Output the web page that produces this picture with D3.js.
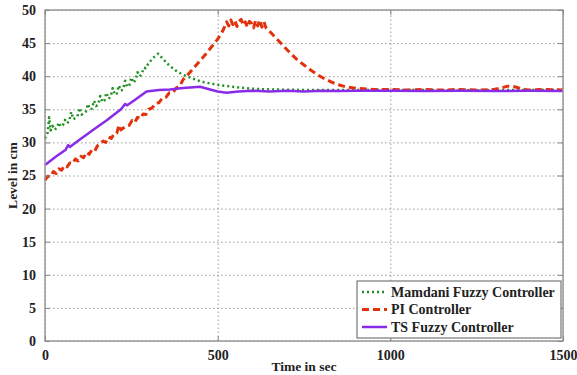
<!DOCTYPE html>
<html>
<head>
<meta charset="utf-8">
<script src="https://cdn.jsdelivr.net/npm/d3@7"></script>
<style>
  body { margin: 0; background: #fff; }
</style>
</head>
<body>
<div></div>
<script>
// Data
var mamdaniTime = [0, 8, 12, 16, 22, 28, 34, 40, 46, 52, 58, 64, 70, 76, 82, 88, 94, 100, 106, 112, 118, 124, 130, 136, 142, 148, 154, 160, 166, 172, 178, 184, 190, 196, 202, 208, 214, 220, 226, 232, 238, 244, 250, 256, 262, 268, 274, 280, 286, 292, 298, 304, 310, 316, 322, 328, 340, 360, 380, 400, 420, 440, 460, 480, 500, 530, 560, 600, 650, 700, 800, 900, 1000, 1100, 1200, 1300, 1400, 1500];
var mamdaniLevel = [30.6, 31.5, 33.8, 31.8, 32.5, 31.9, 32.2, 33.0, 32.4, 32.6, 33.4, 32.9, 33.2, 34.6, 33.5, 33.7, 33.9, 35.2, 34.2, 34.4, 34.6, 35.8, 35.0, 35.1, 36.3, 35.5, 35.7, 37.0, 36.1, 36.3, 37.5, 36.6, 36.9, 38.2, 37.2, 37.4, 38.6, 37.8, 38.0, 39.3, 38.4, 38.6, 39.8, 39.0, 39.4, 40.6, 40.0, 40.3, 41.3, 41.2, 41.8, 42.2, 42.6, 42.9, 43.2, 43.4, 42.7, 41.6, 40.8, 40.2, 39.8, 39.4, 39.1, 38.9, 38.7, 38.5, 38.3, 38.1, 38.0, 37.95, 37.9, 37.9, 37.9, 37.9, 37.85, 37.9, 37.9, 37.9];

var piTime = [0, 8, 16, 24, 32, 40, 48, 56, 64, 72, 80, 88, 96, 104, 112, 120, 128, 136, 144, 152, 160, 168, 176, 184, 192, 200, 208, 214, 220, 228, 236, 244, 252, 260, 268, 276, 284, 292, 300, 310, 320, 330, 340, 350, 360, 370, 380, 390, 400, 410, 420, 430, 440, 450, 460, 470, 480, 490, 500, 510, 518, 526, 532, 538, 544, 550, 556, 562, 568, 574, 580, 586, 592, 598, 604, 610, 616, 622, 628, 634, 640, 650, 670, 690, 710, 730, 750, 770, 790, 810, 830, 850, 870, 900, 950, 1000, 1050, 1100, 1150, 1200, 1250, 1300, 1320, 1340, 1360, 1380, 1400, 1450, 1500];
var piLevel = [24.3, 24.9, 24.8, 25.6, 25.3, 26.0, 25.8, 26.5, 26.3, 26.9, 26.8, 27.5, 27.2, 27.9, 27.7, 28.5, 28.2, 28.9, 28.7, 29.5, 29.8, 30.2, 30.0, 30.8, 30.6, 31.3, 31.4, 32.6, 31.9, 32.2, 32.5, 32.6, 33.3, 33.0, 33.8, 33.6, 34.3, 34.2, 35.0, 35.2, 35.9, 36.0, 36.7, 36.8, 37.5, 37.5, 38.2, 38.5, 39.5, 40.0, 40.6, 41.2, 41.8, 42.4, 43.0, 43.6, 44.3, 44.9, 45.6, 46.4, 47.2, 48.2, 47.6, 48.5, 47.8, 48.4, 47.5, 48.3, 48.6, 47.7, 48.2, 47.4, 48.3, 48.0, 47.3, 48.4, 47.6, 48.5, 47.4, 48.2, 47.3, 46.8, 45.7, 44.6, 43.5, 42.5, 41.7, 40.9, 40.2, 39.6, 39.1, 38.7, 38.4, 38.2, 38.0, 38.0, 37.9, 38.0, 37.9, 38.0, 37.9, 38.0, 38.2, 38.5, 38.4, 38.1, 37.9, 38.0, 37.9];

var tsTime = [0, 30, 60, 67, 72, 100, 140, 180, 220, 232, 238, 260, 294, 330, 362, 400, 449, 470, 500, 526, 560, 600, 650, 700, 750, 800, 850, 900, 1000, 1100, 1200, 1300, 1400, 1500];
var tsLevel = [26.6, 27.8, 28.9, 29.6, 29.3, 30.4, 31.9, 33.4, 35.0, 35.8, 35.6, 36.4, 37.7, 37.9, 38.0, 38.2, 38.4, 38.1, 37.7, 37.5, 37.7, 37.8, 37.7, 37.8, 37.7, 37.8, 37.75, 37.8, 37.8, 37.75, 37.8, 37.75, 37.8, 37.75];

var xTicks = [0, 500, 1000, 1500];
var yTicks = [0, 5, 10, 15, 20, 25, 30, 35, 40, 45, 50];
var legendLabels = ["Mamdani Fuzzy Controller", "PI Controller", "TS Fuzzy Controller"];

var serif = "Liberation Serif, DejaVu Serif, serif";

var svgWidth = 577;
var svgHeight = 375;
var margin = { top: 10, right: 14, bottom: 34, left: 45 };
var width = svgWidth - margin.left - margin.right;
var height = svgHeight - margin.top - margin.bottom;

var svg = d3.select("div")
  .append("svg")
  .attr("width", svgWidth)
  .attr("height", svgHeight)
  .style("font-family", serif);

var chartGroup = svg.append("g")
  .attr("transform", `translate(${margin.left}, ${margin.top})`);

var xScale = d3.scaleLinear().domain([0, 1500]).range([0, width]);
var yScale = d3.scaleLinear().domain([0, 50]).range([height, 0]);

// grid
chartGroup.append("g")
  .attr("transform", `translate(0, ${height})`)
  .call(d3.axisBottom(xScale).tickValues(xTicks).tickSize(-height).tickFormat(""))
  .call(g => g.select(".domain").remove())
  .selectAll("line")
  .attr("stroke", "#999")
  .attr("stroke-dasharray", "1.5,2.5");

chartGroup.append("g")
  .call(d3.axisLeft(yScale).tickValues(yTicks).tickSize(-width).tickFormat(""))
  .call(g => g.select(".domain").remove())
  .selectAll("line")
  .attr("stroke", "#999")
  .attr("stroke-dasharray", "1.5,2.5");

// lines
var series = [
  { t: mamdaniTime, v: mamdaniLevel, color: "#1f8f1f", dash: "2,3", w: 2.5 },
  { t: piTime, v: piLevel, color: "#e2320c", dash: "7,4", w: 3 },
  { t: tsTime, v: tsLevel, color: "#8a2be8", dash: null, w: 2.5 }
];

var line = d3.line()
  .x(d => xScale(d[0]))
  .y(d => yScale(d[1]));

series.forEach(s => {
  chartGroup.append("path")
    .datum(s.t.map((t, i) => [t, s.v[i]]))
    .attr("fill", "none")
    .attr("stroke", s.color)
    .attr("stroke-width", s.w)
    .attr("stroke-dasharray", s.dash)
    .attr("stroke-linejoin", "round")
    .attr("d", line);
});

// box and ticks
chartGroup.append("rect")
  .attr("width", width)
  .attr("height", height)
  .attr("fill", "none")
  .attr("stroke", "#999")
  .attr("stroke-width", 1.5);

var xAxis = chartGroup.append("g")
  .attr("transform", `translate(0, ${height})`)
  .call(d3.axisBottom(xScale).tickValues(xTicks).tickSize(-5).tickPadding(9).tickFormat(d3.format("d")));
var xTop = chartGroup.append("g")
  .call(d3.axisTop(xScale).tickValues(xTicks).tickSize(-5).tickFormat(""));
var yAxis = chartGroup.append("g")
  .call(d3.axisLeft(yScale).tickValues(yTicks).tickSize(-5).tickPadding(9));
var yRight = chartGroup.append("g")
  .attr("transform", `translate(${width}, 0)`)
  .call(d3.axisRight(yScale).tickValues(yTicks).tickSize(-5).tickFormat(""));

[xAxis, xTop, yAxis, yRight].forEach(g => {
  g.attr("font-family", serif).attr("font-size", 14).attr("font-weight", "bold");
  g.select(".domain").remove();
  g.selectAll("line").attr("stroke", "#888");
  g.selectAll("text").attr("fill", "#222");
});

// axis labels
chartGroup.append("text")
  .attr("transform", "rotate(-90)")
  .attr("x", -height / 2)
  .attr("y", -28)
  .attr("text-anchor", "middle")
  .attr("font-family", serif)
  .attr("font-weight", "bold")
  .attr("font-size", 13.5)
  .attr("fill", "#222")
  .text("Level in cm");

chartGroup.append("text")
  .attr("x", width / 2)
  .attr("y", height + 30)
  .attr("text-anchor", "middle")
  .attr("font-family", serif)
  .attr("font-weight", "bold")
  .attr("font-size", 13.5)
  .attr("fill", "#222")
  .text("Time in sec");

// legend
var legend = svg.append("g").attr("transform", "translate(357, 281)");
legend.append("rect")
  .attr("width", 204)
  .attr("height", 57)
  .attr("fill", "#fff")
  .attr("stroke", "#777")
  .attr("stroke-width", 1.2);

legendLabels.forEach((label, i) => {
  var y = 11 + i * 17.5;
  legend.append("line")
    .attr("x1", 5).attr("x2", 30)
    .attr("y1", y).attr("y2", y)
    .attr("stroke", series[i].color)
    .attr("stroke-width", series[i].w)
    .attr("stroke-dasharray", series[i].dash);
  legend.append("text")
    .attr("x", 34)
    .attr("y", y)
    .attr("dy", "0.35em")
    .attr("font-family", serif)
    .attr("font-weight", "bold")
    .attr("font-size", 14)
    .attr("fill", "#222")
    .text(label);
});
</script>
</body>
</html>
